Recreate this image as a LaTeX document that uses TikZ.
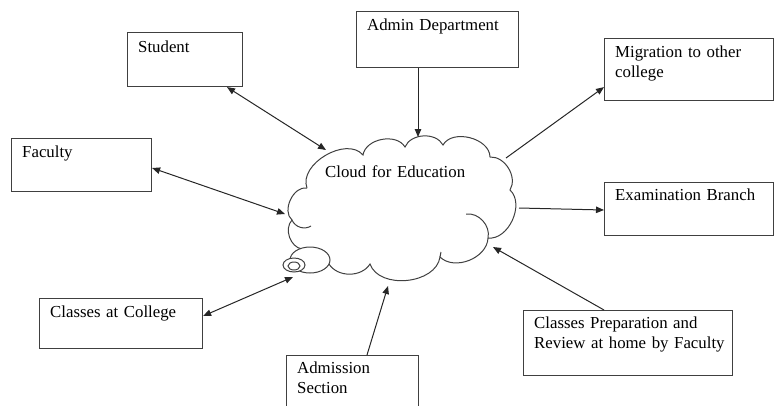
\documentclass[tikz,border=0pt]{standalone}
\usepackage{fontspec}
\setmainfont{Liberation Serif}
\usetikzlibrary{arrows.meta,calc}
\begin{document}
\begin{tikzpicture}[x=1pt,y=-1pt,
  box/.style={draw=black!75, line width=1.1pt, rectangle, inner sep=0pt, anchor=north west},
  txt/.style={anchor=base west, inner sep=0pt, text width=220pt, align=left,
    font=\fontsize{16.8}{20.5}\selectfont, text=black},
  cloudline/.style={draw=black!75, line width=1pt},
  tip/.tip={Triangle[length=8pt,width=6.5pt]},
  arr/.style={draw=black!85, line width=1pt, -tip},
  darr/.style={draw=black!85, line width=1pt, tip-tip}]
\useasboundingbox (0,0) rectangle (775,405);
\clip (0,0) rectangle (775,405);

% boxes
\node[box, minimum width=115pt, minimum height=54pt] (student) at (127,32) {};
\node[box, minimum width=162pt, minimum height=56pt] (admin) at (356,11) {};
\node[box, minimum width=169pt, minimum height=62pt] (migration) at (604,38) {};
\node[box, minimum width=140pt, minimum height=53pt] (faculty) at (11,138) {};
\node[box, minimum width=169pt, minimum height=53pt] (exam) at (604,182) {};
\node[box, minimum width=163pt, minimum height=50pt] (classes) at (39,298) {};
\node[box, minimum width=132pt, minimum height=62pt] (admission) at (286,355) {};
\node[box, minimum width=209pt, minimum height=65pt] (prep) at (523,310) {};

% texts
\node[txt] (student-t) at ($(student.north west)+(11,20)$) {Student};
\node[txt] (admin-t) at ($(admin.north west)+(11,19)$) {Admin Department};
\node[txt] (migration-t) at ($(migration.north west)+(11,19)$) {Migration to other\\college};
\node[txt] (faculty-t) at ($(faculty.north west)+(11,19)$) {Faculty};
\node[txt] (exam-t) at ($(exam.north west)+(11,18)$) {Examination Branch};
\node[txt] (classes-t) at ($(classes.north west)+(11,19)$) {Classes at College};
\node[txt] (admission-t) at ($(admission.north west)+(11,18)$) {Admission\\Section};
\node[txt] (prep-t) at ($(prep.north west)+(11,18)$) {Classes Preparation and\\Review at home by Faculty};

% cloud
\draw[cloudline] (307,188) to[bend left=80] (363,155) to[bend left=70] (405,147)
  to[bend left=65] (443,145) to[bend left=75] (490,157) to[bend left=62] (510,190)
  to[bend left=72] (488,238) to[bend left=66] (440,257) to[bend left=76] (370,264)
  to[bend left=58] (329,264) -- (302,249) to[bend left=62] (292,220)
  to[bend left=75] (307,188);
\draw[cloudline] (292,220) to[bend right=50] (311,226);
\draw[cloudline] (466,214) to[bend left=55] (488,238);
\draw[cloudline] (440,257) to[bend left=20] (441,252);
\draw[cloudline, fill=white] (310,260) ellipse [x radius=20pt, y radius=13pt];
\draw[cloudline, fill=white] (294,265) ellipse [x radius=11pt, y radius=7pt];
\draw[cloudline] (294,266) ellipse [x radius=6pt, y radius=4pt];
\node[txt] (cloud-t) at (325,177) {Cloud for Education};

% cloud connection points
\coordinate (cs) at (326,150);
\coordinate (cf) at (285,214);
\coordinate (ca) at (418,137);
\coordinate (cm) at (506,158);
\coordinate (ce) at (519,208);
\coordinate (cp) at (493,247);
\coordinate (cad) at (388,286);
\coordinate (ccl) at (293,277);

% connectors
\draw[darr] ($(student.south west)+(100,0)$) -- (cs);
\draw[darr] ($(faculty.north east)+(0,30)$) -- (cf);
\draw[arr] ($(admin.south west)+(62,0)$) -- (ca);
\draw[arr] (cm) -- ($(migration.south west)+(0,-14)$);
\draw[arr] (ce) -- ($(exam.north west)+(0,28)$);
\draw[arr] ($(prep.north west)+(81,0)$) -- (cp);
\draw[arr] ($(admission.north west)+(81,0)$) -- (cad);
\draw[darr] ($(classes.north east)+(0,18)$) -- (ccl);
\end{tikzpicture}
\end{document}
